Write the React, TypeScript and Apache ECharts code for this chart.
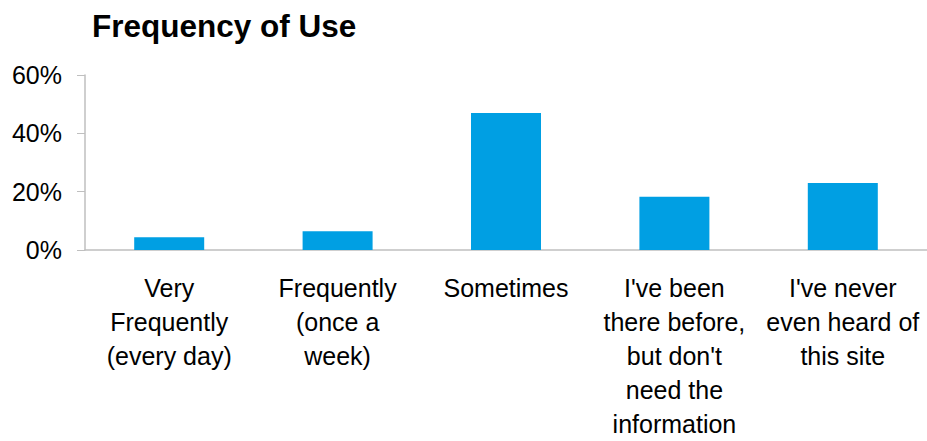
import React, { useEffect, useRef } from "react";
import * as echarts from "echarts";

const categories = [
  "Very\nFrequently\n(every day)",
  "Frequently\n(once a\nweek)",
  "Sometimes",
  "I've been\nthere before,\nbut don't\nneed the\ninformation",
  "I've never\neven heard of\nthis site",
];
const values = [4.4, 6.4, 47.0, 18.3, 23.0];
const yTicks = { min: 0, max: 60, interval: 20 };
const title = "Frequency of Use";

export default function App() {
  const ref = useRef<HTMLDivElement>(null);
  useEffect(() => {
    document.body.style.margin = "0";
    const chart = echarts.init(ref.current!, null, { renderer: "svg" });
    const font = "'Liberation Sans', Arial, sans-serif";
    chart.setOption({
      animation: false,
      backgroundColor: "#ffffff",
      title: {
        text: title,
        left: 87,
        top: 5,
        textStyle: { fontFamily: font, fontSize: 31.5, fontWeight: "bold", color: "#000" },
      },
      grid: { left: 85, top: 75, width: 845, height: 180 },
      xAxis: {
        type: "category",
        data: categories,
        axisLine: { lineStyle: { color: "#BFBFBF", width: 1.5 } },
        axisTick: { show: false },
        axisLabel: {
          interval: 0,
          hideOverlap: false,
          margin: 21,
          color: "#000",
          fontFamily: font,
          fontSize: 25,
          lineHeight: 34,
        },
      },
      yAxis: {
        type: "value",
        min: yTicks.min,
        max: yTicks.max,
        interval: yTicks.interval,
        splitLine: { show: false },
        axisLine: { show: true, lineStyle: { color: "#BFBFBF", width: 1.5 } },
        axisTick: { show: true, length: 8, lineStyle: { color: "#BFBFBF" } },
        axisLabel: {
          margin: 23,
          color: "#000",
          fontFamily: font,
          fontSize: 25,
          formatter: (v: number) => v + "%",
        },
      },
      series: [
        {
          type: "bar",
          data: values,
          barWidth: 70,
          itemStyle: { color: "#009FE3" },
        },
      ],
    });
    return () => chart.dispose();
  }, []);
  return <div ref={ref} style={{ width: 927, height: 441 }} />;
}
